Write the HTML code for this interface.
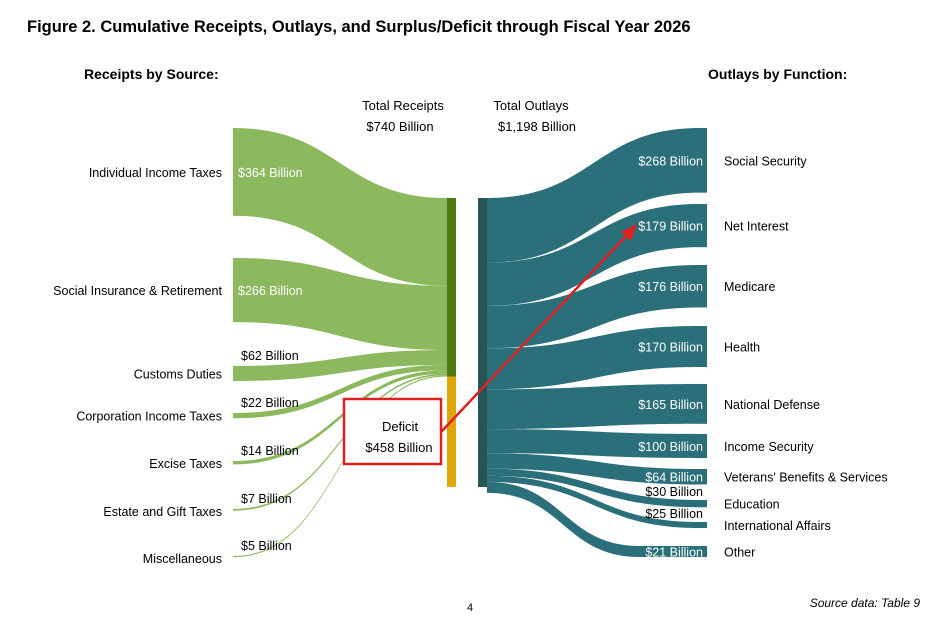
<!DOCTYPE html>
<html><head><meta charset="utf-8"><style>
body{margin:0;background:#fff;}
svg{display:block;font-family:"Liberation Sans",Arial,sans-serif;}
</style></head><body>
<svg id="c" width="945" height="630">
<text x="27" y="32" font-size="16.5" font-weight="bold">Figure 2. Cumulative Receipts, Outlays, and Surplus/Deficit through Fiscal Year 2026</text>
<text x="84" y="79" font-size="14" font-weight="bold">Receipts by Source:</text>
<text x="708" y="79" font-size="14" font-weight="bold">Outlays by Function:</text>
<text x="403" y="110" font-size="13" text-anchor="middle">Total Receipts</text>
<text x="400" y="131" font-size="13" text-anchor="middle">$740 Billion</text>
<text x="531" y="110" font-size="13" text-anchor="middle">Total Outlays</text>
<text x="537" y="131" font-size="13" text-anchor="middle">$1,198 Billion</text>
<g id="flows"></g>
<rect x="344" y="399" width="97" height="65" fill="#fff" stroke="#e02020" stroke-width="2.5"/>
<text x="400" y="431" font-size="13" text-anchor="middle">Deficit</text>
<text x="399" y="452" font-size="13" text-anchor="middle">$458 Billion</text>
<line x1="441" y1="432" x2="628" y2="234" stroke="#e02020" stroke-width="2.5"/>
<polygon points="637,224 621,232 631,241" fill="#e02020"/>
<text x="470" y="611" font-size="11" text-anchor="middle">4</text>
<text x="920" y="607" font-size="12" font-style="italic" text-anchor="end">Source data: Table 9</text>
</svg>
<script>
const receiptCats=["Individual Income Taxes","Social Insurance & Retirement","Customs Duties","Corporation Income Taxes","Excise Taxes","Estate and Gift Taxes","Miscellaneous"];
const receiptVals=[364,266,62,22,14,7,5];
const deficitVal=458;
const outlayCats=["Social Security","Net Interest","Medicare","Health","National Defense","Income Security","Veterans' Benefits & Services","Education","International Affairs","Other"];
const outlayVals=[268,179,176,170,165,100,64,30,25,21];

const NS="http://www.w3.org/2000/svg";
const g=document.getElementById('flows');
const svg=document.getElementById('c');
const k=289/1198;
const leftTops=[128,258,366,413,461,509,556];
const rightTops=[128,204,265,326,384,434,469,500,522,546];
function mk(tag,attrs,parent){const e=document.createElementNS(NS,tag);for(const a in attrs)e.setAttribute(a,attrs[a]);(parent||g).appendChild(e);return e;}
function band(x0,y0,x1,y1,h,fill){
  const m=(x0+x1)/2;
  const d=`M${x0},${y0} C${m},${y0} ${m},${y1} ${x1},${y1} L${x1},${y1+h} C${m},${y1+h} ${m},${y0+h} ${x0},${y0+h} Z`;
  return mk('path',{d:d,fill:fill});
}
function txt(x,y,s,opt){const t=mk('text',Object.assign({x:x,y:y,'font-size':12.5},opt||{}),svg);t.textContent=s;return t;}
let cy=198;
receiptVals.forEach((v,i)=>{
  const h=Math.max(v*k,0.8);
  const p=band(233,leftTops[i],447,cy,h,'#8cb85e');
  
  
  cy+=v*k;
  const lab=txt(222,leftTops[i]+Math.max(h/2,2)+5,receiptCats[i],{'text-anchor':'end'});
  
  
  let vl;
  if(h>30){vl=txt(238,leftTops[i]+h/2+5,'$'+v+' Billion',{fill:'#fff'});}
  else{vl=txt(241,leftTops[i]-6,'$'+v+' Billion',{});}
  
  
});
const recTotal=receiptVals.reduce((a,b)=>a+b,0);
const rb=mk('rect',{x:447,y:198,width:9,height:recTotal*k,fill:'#4e7a10'});


const db=mk('rect',{x:447,y:198+recTotal*k,width:9,height:deficitVal*k,fill:'#e0a70a'});


let oy=198;
const outTotal=outlayVals.reduce((a,b)=>a+b,0);
outlayVals.forEach((v,i)=>{
  const h=v*k;
  const last=(i===outlayVals.length-1);
  const nh=last?Math.max(h,11):h;
  const p=band(487,oy,last?640:700,rightTops[i],last?nh:h,'#2a6f79');
  
  
  const nr=mk('rect',{x:last?639:699,y:rightTops[i],width:last?68:8,height:nh,fill:'#2a6f79'});
  
  
  oy+=h;
  const lab=txt(724,rightTops[i]+nh/2+5,outlayCats[i],{});
  
  
  const dark=(i===7||i===8);
  const vl=txt(703,dark?rightTops[i]-4:rightTops[i]+nh/2+5,'$'+v+' Billion',{'text-anchor':'end',fill:dark?'#000':'#fff'});
  
  
});
const ob=mk('rect',{x:478,y:198,width:9,height:outTotal*k,fill:'#275457'});


</script>
</body></html>
